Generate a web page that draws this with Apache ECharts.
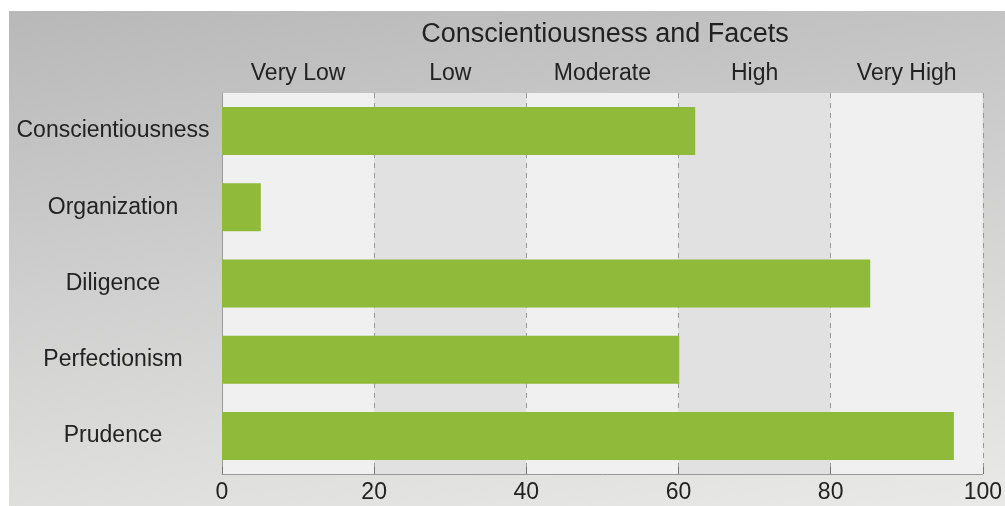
<!DOCTYPE html>
<html>
<head>
<meta charset="utf-8">
<script src="https://cdn.jsdelivr.net/npm/echarts@6/dist/echarts.min.js"></script>
<style>
html,body{margin:0;padding:0;background:#fff;width:1005px;height:506px;overflow:hidden;}
#chart{position:absolute;left:9px;top:11px;width:996px;height:495px;
background:linear-gradient(172deg,#b8b8b8 0%,#cfcfcf 45%,#e9e9e7 100%);}
</style>
</head>
<body>
<div id="chart"></div>
<script>
var categories = ['Conscientiousness','Organization','Diligence','Perfectionism','Prudence'];
var values = [62.2, 5.1, 85.2, 60.1, 96.2];
var bandLabels = ['Very Low','Low','Moderate','High','Very High'];
var titleText = 'Conscientiousness and Facets';

var chart = echarts.init(document.getElementById('chart'), null, {renderer:'canvas'});
var font = 'Liberation Sans, Arial, Helvetica, sans-serif';
chart.setOption({
  backgroundColor: 'transparent',
  animation: false,
  graphic: [{
    type: 'text', z: 10,
    style: {x: 596, y: 24, text: titleText, font: '27px ' + font, fill: '#222',
            textAlign: 'center', textVerticalAlign: 'middle'}
  }],
  grid: {left: 213, right: 17, top: 82, bottom: 32, containLabel: false},
  xAxis: [{
    type: 'value', min: 0, max: 100, interval: 20, position: 'bottom', z: 3,
    axisLine: {show: true, lineStyle: {color: '#999', width: 1}},
    axisTick: {show: true, inside: true, length: 7, lineStyle: {color: '#777'}},
    axisLabel: {color: '#222', fontSize: 23, fontFamily: font, margin: 7},
    splitLine: {show: true, lineStyle: {color: '#999', type: [5, 5], width: 1}}
  }, {
    type: 'category', data: bandLabels, position: 'top', boundaryGap: true, z: 0,
    axisLine: {show: false}, axisTick: {show: false},
    axisLabel: {color: '#222', fontSize: 23, fontFamily: font, margin: 8},
    splitLine: {show: false},
    splitArea: {show: true, areaStyle: {color: ['#f0f0f0', '#e1e1e1']}}
  }],
  yAxis: {
    type: 'category', data: categories, inverse: true, z: 3,
    axisLine: {show: true, lineStyle: {color: '#999'}},
    axisTick: {show: false},
    axisLabel: {color: '#222', fontSize: 23, fontFamily: font, margin: 109, align: 'center'},
    splitLine: {show: false}
  },
  series: [{
    type: 'bar', data: values, xAxisIndex: 0, z: 5,
    barCategoryGap: '37%',
    itemStyle: {color: '#8fba3a'}
  }]
});
</script>
</body>
</html>
